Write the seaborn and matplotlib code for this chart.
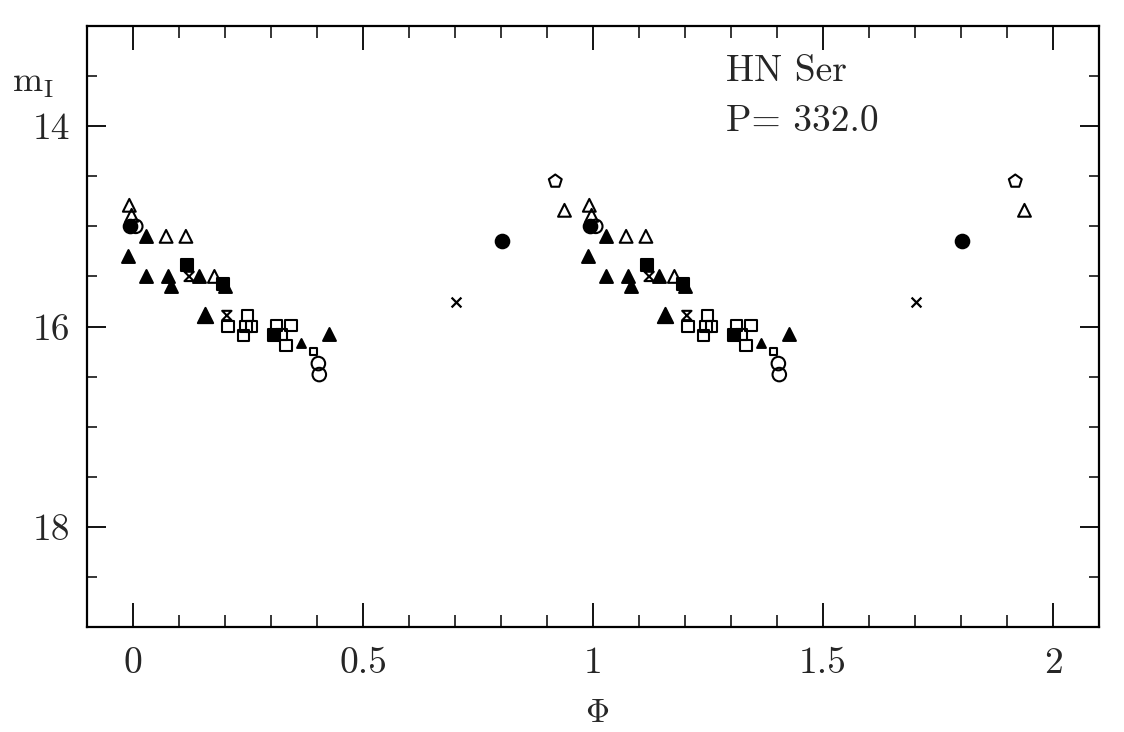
import numpy as np
import matplotlib
matplotlib.use("Agg")
import matplotlib.pyplot as plt
from matplotlib.path import Path
from matplotlib.ticker import MultipleLocator, FixedLocator, FixedFormatter
import seaborn as sns

# ---- data (phase, I magnitude); each point is shown at phase and phase+1 ----
open_tri_phi = [-0.008, -0.003, 0.072, 0.115, 0.177, 0.938]
open_tri_mag = [14.79, 14.89, 15.10, 15.10, 15.50, 14.84]
filled_tri_phi = [0.028, -0.010, 0.028, 0.075, 0.083, 0.144, 0.425, 0.200]
filled_tri_mag = [15.10, 15.30, 15.50, 15.50, 15.60, 15.50, 16.07, 15.60]
big_tri_phi = [0.157]
big_tri_mag = [15.89]
small_tri_phi = [0.365]
small_tri_mag = [16.16]
filled_circ_phi = [-0.006, 0.802]
filled_circ_mag = [15.00, 15.15]
open_circ_phi = [0.006, 0.403, 0.405]
open_circ_mag = [15.00, 16.37, 16.48]
filled_sq_phi = [0.118, 0.195, 0.307]
filled_sq_mag = [15.39, 15.58, 16.08]
open_sq_phi = [0.206, 0.249, 0.245, 0.258, 0.240, 0.312, 0.343, 0.323, 0.333]
open_sq_mag = [16.00, 15.89, 16.00, 16.00, 16.09, 15.99, 15.99, 16.08, 16.19]
hourglass_phi = [0.122, 0.204]
hourglass_mag = [15.50, 15.89]
pent_phi = [0.918]
pent_mag = [14.55]
cross_phi = [0.703]
cross_mag = [15.76]
small_sq_phi = [0.392]
small_sq_mag = [16.25]

x_ticks = [0, 0.5, 1, 1.5, 2]
x_ticklabels = ["0", "0.5", "1", "1.5", "2"]
y_ticks = [14, 16, 18]
y_ticklabels = ["14", "16", "18"]
star_name = "HN Ser"
period_label = "P= 332.0"

sns.set_style("ticks")
plt.rcParams["font.family"] = ["cmr10", "DejaVu Serif"]
plt.rcParams["mathtext.fontset"] = "cm"
plt.rcParams["axes.unicode_minus"] = False
plt.rcParams["axes.formatter.use_mathtext"] = True

fig = plt.figure(figsize=(11.24, 7.32), dpi=100)
ax = fig.add_axes([87 / 1124, 1 - 627 / 732, (1099 - 87) / 1124, (627 - 26) / 732])

hourglass = Path([(-1, 1), (1, 1), (-1, -1), (1, -1), (-1, 1)],
                 [Path.MOVETO, Path.LINETO, Path.LINETO, Path.LINETO, Path.CLOSEPOLY])


def both(phi):
    p = np.asarray(phi, dtype=float)
    return np.concatenate([p, p + 1.0])


def draw(phi, mag, marker, size, filled, lw=1.5):
    xs = both(phi)
    ys = np.concatenate([mag, mag])
    if filled:
        sns.scatterplot(x=xs, y=ys, ax=ax, marker=marker, s=size,
                        color="black", edgecolor="black", linewidth=lw, zorder=3)
    else:
        sns.scatterplot(x=xs, y=ys, ax=ax, marker=marker, s=size,
                        facecolor="none", edgecolor="black", linewidth=lw, zorder=3)


draw(open_tri_phi, open_tri_mag, "^", 85, False)
draw(filled_tri_phi, filled_tri_mag, "^", 85, True)
draw(big_tri_phi, big_tri_mag, "^", 120, True)
draw(small_tri_phi, small_tri_mag, "^", 40, True)
draw(filled_circ_phi, filled_circ_mag, "o", 95, True)
draw(open_circ_phi, open_circ_mag, "o", 95, False)
draw(filled_sq_phi, filled_sq_mag, "s", 70, True)
draw(open_sq_phi, open_sq_mag, "s", 70, False)
draw(hourglass_phi, hourglass_mag, hourglass, 45, False)
draw(pent_phi, pent_mag, "p", 95, False)
draw(cross_phi, cross_mag, "x", 50, True, lw=1.6)
draw(small_sq_phi, small_sq_mag, "s", 22, False)

ax.set_xlim(-0.1, 2.1)
ax.set_ylim(19, 13)

ax.xaxis.set_major_locator(FixedLocator(x_ticks))
ax.xaxis.set_major_formatter(FixedFormatter(x_ticklabels))
ax.xaxis.set_minor_locator(MultipleLocator(0.1))
ax.yaxis.set_major_locator(FixedLocator(y_ticks))
ax.yaxis.set_major_formatter(FixedFormatter(y_ticklabels))
ax.yaxis.set_minor_locator(MultipleLocator(0.5))

ax.tick_params(axis="x", which="major", direction="in", length=17, width=1.3,
               top=True, bottom=True, labelsize=27, pad=14, color="black")
ax.tick_params(axis="x", which="minor", direction="in", length=8.5, width=1.3,
               top=True, bottom=True)
ax.tick_params(axis="y", which="major", direction="in", length=14, width=1.3,
               left=True, right=True, labelsize=27, pad=12, color="black")
ax.tick_params(axis="y", which="minor", direction="in", length=7, width=1.3,
               left=True, right=True)
for sp in ax.spines.values():
    sp.set_linewidth(1.6)
    sp.set_color("black")

ax.set_xlabel("")
ax.set_ylabel("")
ax.text(1.289, 13.55, star_name, fontsize=27, ha="left", va="baseline")
ax.text(1.289, 14.05, period_label, fontsize=27, ha="left", va="baseline")

fig.text(12 / 1124, 1 - 92 / 732, r"$\mathrm{m}_{\mathrm{I}}$", fontsize=26,
         ha="left", va="baseline")
fig.text(597 / 1124, 1 - 722 / 732, r"$\Phi$", fontsize=24, ha="center",
         va="baseline")

fig.savefig("out.png", dpi=100, facecolor="white")
